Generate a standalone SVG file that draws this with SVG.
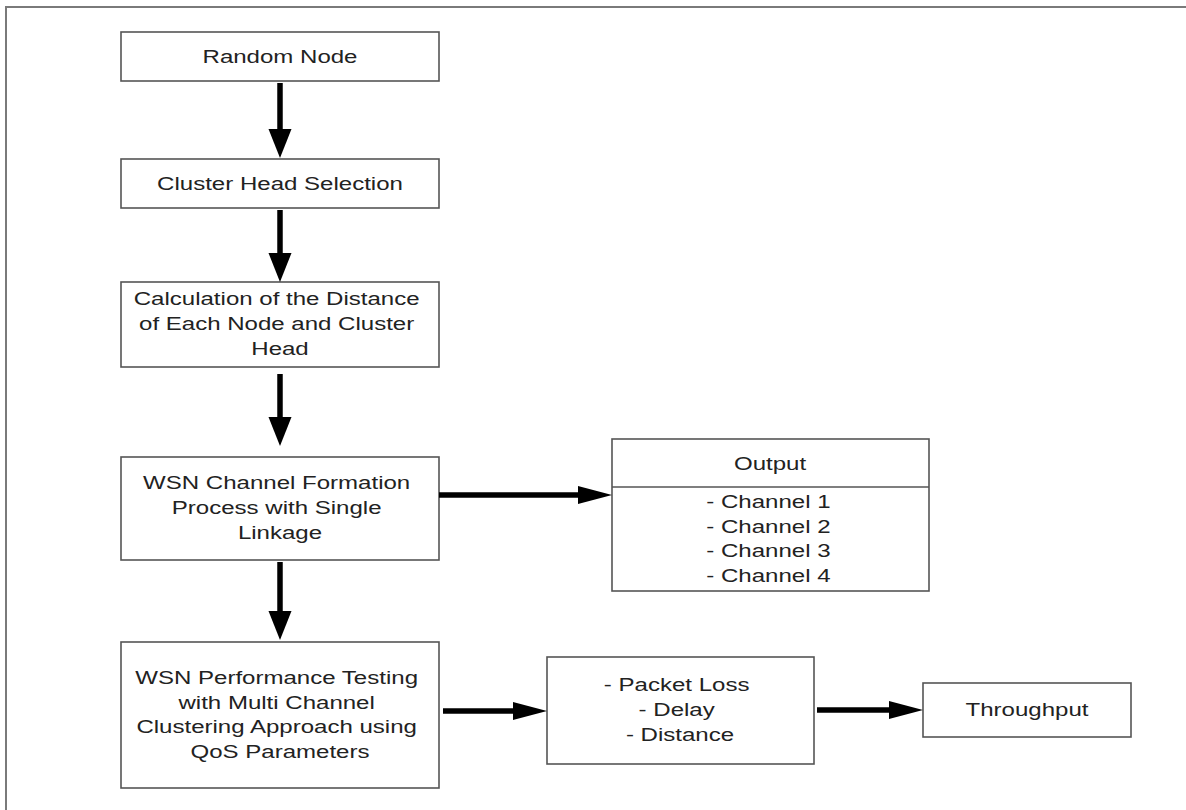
<svg xmlns="http://www.w3.org/2000/svg" width="1186" height="810" viewBox="0 0 1186 810">
  <style>
    .box { fill: #ffffff; stroke: #555555; stroke-width: 1.6; }
    .lbl { font-family: "Liberation Sans", Arial, sans-serif; font-size: 18.5px; fill: #222222; text-anchor: middle; }
    .lbl-left { font-family: "Liberation Sans", Arial, sans-serif; font-size: 18.5px; fill: #222222; text-anchor: start; }
    .shaft { stroke: #000000; stroke-width: 5.5; fill: none; }
    .head { fill: #000000; stroke: none; }
    .frame { stroke: #7a7a7a; stroke-width: 2; fill: none; }
  </style>

  <rect width="1186" height="810" fill="#ffffff"/>

  <!-- page frame (top and left edges) -->
  <path class="frame" d="M6 810 V7 H1186"/>

  <g id="random-node">
    <rect class="box" x="121" y="32" width="318" height="49"/>
    <text class="lbl" transform="translate(280 0) scale(1.3 1)" x="0" y="63">Random Node</text>
  </g>

  <g id="cluster-head-selection">
    <rect class="box" x="121" y="159" width="318" height="49"/>
    <text class="lbl" transform="translate(280 0) scale(1.3 1)" x="0" y="190">Cluster Head Selection</text>
  </g>

  <g id="distance-calculation">
    <rect class="box" x="121" y="282" width="318" height="85"/>
    <text class="lbl" transform="translate(280 0) scale(1.3 1)">
      <tspan x="0" y="305">Calculation of the Distance</tspan>
      <tspan x="0" y="330">of Each Node and Cluster</tspan>
      <tspan x="0" y="355">Head</tspan>
    </text>
  </g>

  <g id="channel-formation">
    <rect class="box" x="121" y="457" width="318" height="103"/>
    <text class="lbl" transform="translate(280 0) scale(1.3 1)">
      <tspan x="0" y="489">WSN Channel Formation</tspan>
      <tspan x="0" y="514">Process with Single</tspan>
      <tspan x="0" y="539">Linkage</tspan>
    </text>
  </g>

  <g id="output">
    <rect class="box" x="612" y="439" width="317" height="152"/>
    <line x1="612" y1="487" x2="929" y2="487" stroke="#555555" stroke-width="1.6"/>
    <text class="lbl" transform="translate(770 0) scale(1.3 1)" x="0" y="470">Output</text>
    <text class="lbl-left" transform="translate(770 0) scale(1.3 1)">
      <tspan x="-49" y="508">- Channel 1</tspan>
      <tspan x="-49" y="533">- Channel 2</tspan>
      <tspan x="-49" y="557">- Channel 3</tspan>
      <tspan x="-49" y="582">- Channel 4</tspan>
    </text>
  </g>

  <g id="performance-testing">
    <rect class="box" x="121" y="642" width="318" height="146"/>
    <text class="lbl" transform="translate(280 0) scale(1.3 1)">
      <tspan x="0" y="684">WSN Performance Testing</tspan>
      <tspan x="0" y="709">with Multi Channel</tspan>
      <tspan x="0" y="733">Clustering Approach using</tspan>
      <tspan x="0" y="758">QoS Parameters</tspan>
    </text>
  </g>

  <g id="qos-parameters">
    <rect class="box" x="547" y="657" width="267" height="107"/>
    <text class="lbl" transform="translate(680 0) scale(1.3 1)">
      <tspan x="0" y="691">- Packet Loss</tspan>
      <tspan x="0" y="716">- Delay</tspan>
      <tspan x="0" y="741">- Distance</tspan>
    </text>
  </g>

  <g id="throughput">
    <rect class="box" x="923" y="683" width="208" height="54"/>
    <text class="lbl" transform="translate(1027 0) scale(1.3 1)" x="0" y="716">Throughput</text>
  </g>

  <g id="connectors">
    <!-- vertical flow -->
    <line class="shaft" x1="280" y1="83" x2="280" y2="130"/>
    <polygon class="head" points="268.5,129 291.5,129 280,158"/>

    <line class="shaft" x1="280" y1="210" x2="280" y2="254"/>
    <polygon class="head" points="268.5,253 291.5,253 280,282"/>

    <line class="shaft" x1="280" y1="374" x2="280" y2="418"/>
    <polygon class="head" points="268.5,417 291.5,417 280,446"/>

    <line class="shaft" x1="280" y1="562" x2="280" y2="612"/>
    <polygon class="head" points="268.5,611 291.5,611 280,640"/>

    <!-- horizontal flow -->
    <line class="shaft" x1="439" y1="495" x2="580" y2="495"/>
    <polygon class="head" points="578,486 578,504 612,495"/>

    <line class="shaft" x1="443" y1="711" x2="515" y2="711"/>
    <polygon class="head" points="513,702 513,720 547,711"/>

    <line class="shaft" x1="817" y1="710" x2="891" y2="710"/>
    <polygon class="head" points="889,701 889,719 923,710"/>
  </g>
</svg>
